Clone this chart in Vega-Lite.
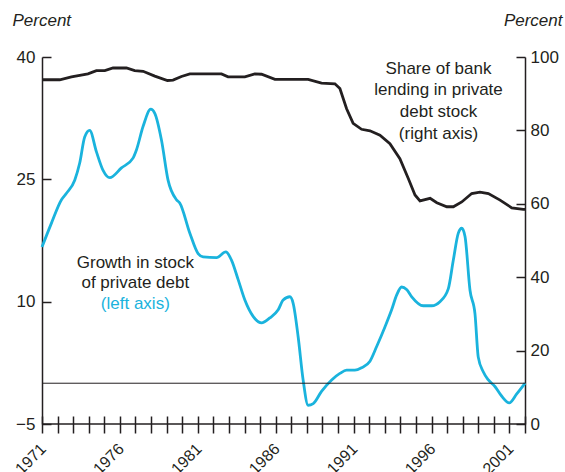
{
  "$schema": "https://vega.github.io/schema/vega-lite/v6.json",
  "width": 483,
  "height": 367,
  "autosize": "none",
  "padding": {"left": 42, "top": 57, "right": 40, "bottom": 48},
  "config": {
    "font": "Liberation Sans",
    "view": {"stroke": null},
    "axis": {"domainColor": "#231f20", "tickColor": "#231f20", "labelColor": "#231f20", "titleColor": "#231f20", "domainWidth": 1.5, "tickWidth": 1.5, "grid": false, "labelFontSize": 17, "titleFontSize": 17, "titleFontWeight": "normal"}
  },
  "datasets": {
    "growth": [
      {"year": 1971.00, "value": 16.7}, {"year": 1971.60, "value": 19.6}, {"year": 1972.25, "value": 22.5},
      {"year": 1972.57, "value": 23.3}, {"year": 1973.10, "value": 24.9}, {"year": 1973.42, "value": 27.0},
      {"year": 1973.74, "value": 30.2}, {"year": 1974.06, "value": 31.0}, {"year": 1974.49, "value": 28.4},
      {"year": 1974.92, "value": 26.1}, {"year": 1975.35, "value": 25.2}, {"year": 1976.10, "value": 26.4},
      {"year": 1976.84, "value": 27.6}, {"year": 1977.06, "value": 28.6}, {"year": 1977.49, "value": 31.5},
      {"year": 1977.98, "value": 33.6}, {"year": 1978.24, "value": 33.1}, {"year": 1978.67, "value": 29.8},
      {"year": 1979.09, "value": 24.9}, {"year": 1979.63, "value": 22.5}, {"year": 1979.84, "value": 22.1},
      {"year": 1980.49, "value": 18.4}, {"year": 1981.02, "value": 15.9}, {"year": 1981.34, "value": 15.5},
      {"year": 1982.20, "value": 15.4}, {"year": 1982.80, "value": 16.1}, {"year": 1983.16, "value": 15.1},
      {"year": 1983.59, "value": 12.7}, {"year": 1984.02, "value": 10.2}, {"year": 1984.55, "value": 8.2},
      {"year": 1985.09, "value": 7.4}, {"year": 1985.62, "value": 8.0}, {"year": 1986.16, "value": 9.0},
      {"year": 1986.48, "value": 10.2}, {"year": 1986.91, "value": 10.6}, {"year": 1987.12, "value": 9.8},
      {"year": 1987.44, "value": 5.7}, {"year": 1987.76, "value": 0.4}, {"year": 1988.08, "value": -2.7},
      {"year": 1988.41, "value": -2.5}, {"year": 1988.94, "value": -1.0}, {"year": 1989.59, "value": 0.4},
      {"year": 1990.12, "value": 1.2}, {"year": 1990.55, "value": 1.6}, {"year": 1991.08, "value": 1.6},
      {"year": 1991.51, "value": 1.9}, {"year": 1992.05, "value": 2.7}, {"year": 1992.48, "value": 4.5},
      {"year": 1993.01, "value": 6.9}, {"year": 1993.44, "value": 9.0}, {"year": 1993.76, "value": 10.8},
      {"year": 1994.08, "value": 11.8}, {"year": 1994.40, "value": 11.5}, {"year": 1994.73, "value": 10.6},
      {"year": 1995.47, "value": 9.5}, {"year": 1996.01, "value": 9.5}, {"year": 1996.54, "value": 10.0},
      {"year": 1997.08, "value": 11.6}, {"year": 1997.40, "value": 15.1}, {"year": 1997.72, "value": 18.4},
      {"year": 1997.94, "value": 19.0}, {"year": 1998.15, "value": 18.0}, {"year": 1998.47, "value": 11.4},
      {"year": 1998.79, "value": 8.5}, {"year": 1999.00, "value": 3.2}, {"year": 1999.32, "value": 1.4},
      {"year": 1999.65, "value": 0.4}, {"year": 2000.07, "value": -0.4}, {"year": 2000.51, "value": -1.6},
      {"year": 2000.99, "value": -2.4}, {"year": 2001.47, "value": -1.3}, {"year": 2002.00, "value": 0.0}
    ],
    "share": [
      {"year": 1971.00, "value": 93.8}, {"year": 1972.14, "value": 93.8}, {"year": 1972.89, "value": 94.6},
      {"year": 1973.95, "value": 95.4}, {"year": 1974.49, "value": 96.3}, {"year": 1975.03, "value": 96.3},
      {"year": 1975.56, "value": 97.0}, {"year": 1976.42, "value": 97.0}, {"year": 1976.95, "value": 96.3},
      {"year": 1977.49, "value": 96.1}, {"year": 1978.24, "value": 94.8}, {"year": 1979.05, "value": 93.6},
      {"year": 1979.41, "value": 93.7}, {"year": 1979.95, "value": 94.7}, {"year": 1980.49, "value": 95.4},
      {"year": 1982.52, "value": 95.4}, {"year": 1982.94, "value": 94.6}, {"year": 1984.02, "value": 94.6},
      {"year": 1984.66, "value": 95.4}, {"year": 1985.09, "value": 95.3}, {"year": 1985.95, "value": 93.9},
      {"year": 1988.08, "value": 93.9}, {"year": 1988.94, "value": 92.9}, {"year": 1989.80, "value": 92.7},
      {"year": 1990.12, "value": 91.4}, {"year": 1990.55, "value": 85.9}, {"year": 1990.97, "value": 81.9},
      {"year": 1991.51, "value": 80.3}, {"year": 1992.05, "value": 79.9}, {"year": 1992.69, "value": 78.7},
      {"year": 1993.33, "value": 76.4}, {"year": 1993.97, "value": 72.3}, {"year": 1994.51, "value": 66.9},
      {"year": 1994.94, "value": 62.4}, {"year": 1995.26, "value": 60.8}, {"year": 1995.91, "value": 61.5},
      {"year": 1996.34, "value": 60.3}, {"year": 1996.98, "value": 59.2}, {"year": 1997.40, "value": 59.2},
      {"year": 1997.94, "value": 60.5}, {"year": 1998.58, "value": 62.8}, {"year": 1999.11, "value": 63.2},
      {"year": 1999.65, "value": 62.8}, {"year": 2000.40, "value": 61.0}, {"year": 2001.15, "value": 58.9},
      {"year": 2001.89, "value": 58.5}, {"year": 2002.00, "value": 58.5}
    ],
    "notesLeft": [
      {"year": 1976.99, "value": 14.7, "text": "Growth in stock", "part": "name"},
      {"year": 1976.99, "value": 12.35, "text": "of private debt", "part": "name"},
      {"year": 1976.99, "value": 9.7, "text": "(left axis)", "part": "axis"}
    ],
    "notesRight": [
      {"year": 1996.45, "value": 96.8, "text": "Share of bank"},
      {"year": 1996.45, "value": 90.9, "text": "lending in private"},
      {"year": 1996.45, "value": 85.0, "text": "debt stock"},
      {"year": 1996.45, "value": 79.1, "text": "(right axis)"}
    ]
  },
  "encoding": {
    "x": {"field": "year", "type": "quantitative", "scale": {"domain": [1971, 2002], "nice": false, "zero": false},
      "axis": {"orient": "bottom", "values": [1971,1972,1973,1974,1975,1976,1977,1978,1979,1980,1981,1982,1983,1984,1985,1986,1987,1988,1989,1990,1991,1992,1993,1994,1995,1996,1997,1998,1999,2000,2001,2002],
        "format": "d", "labelExpr": "(datum.value - 1971) % 5 === 0 ? datum.label : ''",
        "labelAngle": -45, "labelAlign": "right", "labelBaseline": "middle", "labelOffset": 1, "labelPadding": 13,
        "labelFontSize": 16, "tickSize": 17, "offset": -8, "domain": false, "title": null, "labelOverlap": false, "labelFlush": false}}
  },
  "layer": [
    {
      "encoding": {
        "y": {"field": "value", "type": "quantitative", "scale": {"domain": [-5, 40], "nice": false, "zero": false},
          "axis": {"orient": "left", "values": [-5, 10, 25, 40], "tickSize": -9, "labelPadding": 16,
            "title": "Percent", "titleAngle": 0, "titleFontStyle": "italic", "titleAlign": "left", "titleBaseline": "middle",
            "titleX": -30, "titleY": -37, "labelFlush": false}}
      },
      "layer": [
        {
          "data": {"name": "growth"},
          "mark": {"type": "line", "color": "#1ab3dd", "strokeWidth": 2.8, "interpolate": "monotone"}
        },
        {
          "data": {"values": [{"value": 0}, {"value": -5}]},
          "mark": {"type": "rule", "color": "#231f20"},
          "encoding": {
            "x": null,
            "strokeWidth": {"field": "value", "type": "quantitative", "scale": {"domain": [-5, 0], "range": [1.5, 1]}, "legend": null}
          }
        },
        {
          "data": {"name": "notesLeft"},
          "mark": {"type": "text", "fontSize": 17, "align": "center", "baseline": "middle"},
          "encoding": {
            "text": {"field": "text"},
            "color": {"field": "part", "type": "nominal", "scale": {"domain": ["name", "axis"], "range": ["#231f20", "#1ab3dd"]}, "legend": null}
          }
        }
      ]
    },
    {
      "encoding": {
        "y": {"field": "value", "type": "quantitative", "scale": {"domain": [0, 100], "nice": false},
          "axis": {"orient": "right", "values": [0, 20, 40, 60, 80, 100], "tickSize": -9, "labelPadding": 14,
            "title": "Percent", "titleAngle": 0, "titleFontStyle": "italic", "titleAlign": "right", "titleBaseline": "middle",
            "titleX": 37, "titleY": -37, "labelFlush": false}}
      },
      "layer": [
        {
          "data": {"name": "share"},
          "mark": {"type": "line", "color": "#231f20", "strokeWidth": 2.8}
        },
        {
          "data": {"name": "notesRight"},
          "mark": {"type": "text", "fontSize": 17, "align": "center", "baseline": "middle", "color": "#231f20"},
          "encoding": {"text": {"field": "text"}}
        }
      ]
    }
  ],
  "resolve": {"scale": {"y": "independent"}}
}
